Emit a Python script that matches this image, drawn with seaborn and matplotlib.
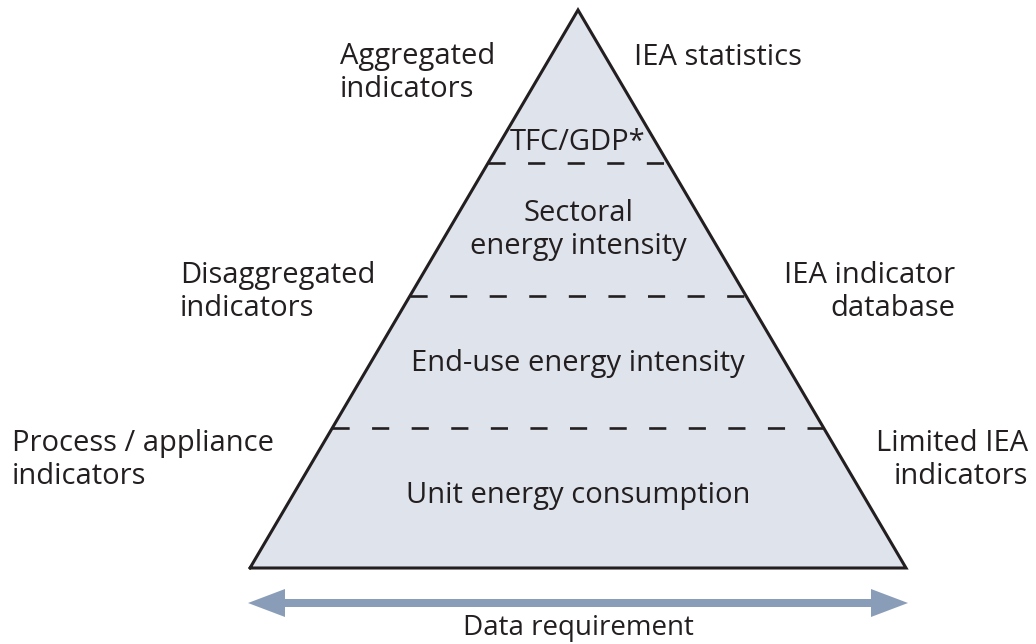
import matplotlib
matplotlib.use("Agg")
import matplotlib.pyplot as plt
import matplotlib.patches as mpatches
import seaborn as sns
import pandas as pd

# pyramid tiers, from top to bottom
tier_labels = ["TFC/GDP*", "Sectoral\nenergy intensity", "End-use energy intensity", "Unit energy consumption"]
# height of each tier boundary as a share of the pyramid height (0 = base, 1 = apex)
tier_bounds = [1.0, 0.726, 0.488, 0.251, 0.0]
left_labels = ["Aggregated\nindicators", "Disaggregated\nindicators", "Process / appliance\nindicators"]
right_labels = ["IEA statistics", "IEA indicator\ndatabase", "Limited IEA\nindicators"]
axis_label = "Data requirement"

sns.set_theme(style="white")
plt.rcParams["font.family"] = ["Open Sans", "DejaVu Sans"]

W, H = 1036, 644
fig = plt.figure(figsize=(W / 100, H / 100), dpi=100)
ax = fig.add_axes([0, 0, 1, 1])
ax.set_xlim(0, W)
ax.set_ylim(H, 0)
ax.axis("off")

apex = (578, 10)
base_y = 568
base_l, base_r = 250, 906
text_col = "#231f20"
fill_col = "#dfe3ec"
arrow_col = "#8a9db8"


def y_at(h):
    return base_y - h * (base_y - apex[1])


def edges_at(h):
    xl = base_l + h * (apex[0] - base_l)
    xr = base_r + h * (apex[0] - base_r)
    return xl, xr


ax.fill([base_l, apex[0], base_r], [base_y, apex[1], base_y], color=fill_col, zorder=1)
ax.plot([base_l, apex[0], base_r, base_l], [base_y, apex[1], base_y, base_y],
        color=text_col, lw=2.2, solid_joinstyle="miter", zorder=3)

# dashed dividers between tiers
for h in tier_bounds[1:-1]:
    xl, xr = edges_at(h)
    d = pd.DataFrame({"x": [xl, xr], "y": [y_at(h), y_at(h)]})
    sns.lineplot(data=d, x="x", y="y", ax=ax, color=text_col, lw=1.9,
                 dashes=False, zorder=2).lines[-1].set_dashes((6.5, 8.5))

fs = 21
ls = 1.22
# tier labels
tier_y = [142, 230, 363, 495]
for lab, ty in zip(tier_labels, tier_y):
    ax.text(apex[0], ty, lab, ha="center", va="center", fontsize=fs,
            color=text_col, linespacing=ls)

ax.text(340, 73, left_labels[0], ha="left", va="center", fontsize=fs, color=text_col, linespacing=ls)
ax.text(180, 292, left_labels[1], ha="left", va="center", fontsize=fs, color=text_col, linespacing=ls)
ax.text(12, 460, left_labels[2], ha="left", va="center", fontsize=fs, color=text_col, linespacing=ls)

ax.text(634, 57, right_labels[0], ha="left", va="center", fontsize=fs, color=text_col)
ax.text(955, 292, right_labels[1], ha="right", va="center", fontsize=fs, color=text_col,
        linespacing=ls, multialignment="right")
ax.text(1028, 460, right_labels[2], ha="right", va="center", fontsize=fs, color=text_col,
        linespacing=ls, multialignment="right")

# double-headed arrow, drawn as two arrows from the middle outwards
ay = 603
for x0, x1 in [(578, 248), (578, 908)]:
    ax.add_patch(mpatches.FancyArrow(x0, ay, x1 - x0, 0, width=8, head_width=28,
                                     head_length=37, length_includes_head=True,
                                     color=arrow_col, lw=0))
ax.text(apex[0], 635, axis_label, ha="center", va="baseline", fontsize=20, color=text_col)

fig.savefig("out.png", dpi=100)
